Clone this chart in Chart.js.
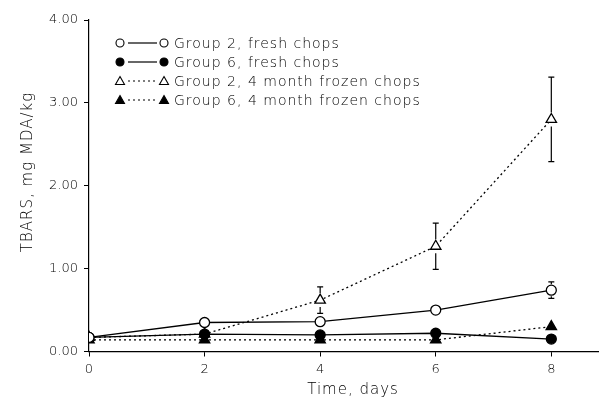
<!DOCTYPE html>
<html>
<head>
<meta charset="utf-8">
<script src="https://cdn.jsdelivr.net/npm/chart.js@4/dist/chart.umd.min.js"></script>
<style>
  html, body { margin: 0; padding: 0; background: #fff; }
  #wrap { width: 606px; height: 404px; position: relative; }
</style>
</head>
<body>
<div id="wrap"><canvas id="c" width="606" height="404"></canvas></div>
<script>
// Storage time (days) and TBARS means (mg MDA/kg)
const days = [0, 2, 4, 6, 8];
const yTicks = [0, 1, 2, 3, 4];
const g2Fresh = [0.17, 0.35, 0.36, 0.50, 0.74];
const g2FreshErr = [0, 0, 0, 0, 0.10];
const g6Fresh = [0.17, 0.21, 0.20, 0.22, 0.15];
const g2Frozen = [0.17, 0.21, 0.62, 1.27, 2.80];
const g2FrozenErr = [0, 0, 0.16, 0.28, 0.51];
const g6Frozen = [0.14, 0.14, 0.14, 0.14, 0.30];

const seriesNames = [
  'Group 2, fresh chops',
  'Group 6, fresh chops',
  'Group 2, 4 month frozen chops',
  'Group 6, 4 month frozen chops'
];
const xTitle = 'Time, days';
const yTitle = 'TBARS, mg MDA/kg';

const FONT = '"DejaVu Sans", sans-serif';
const WEIGHT = '200';
const pts = arr => arr.map((v, i) => ({ x: days[i], y: v }));

function series(label, values, opts) {
  return Object.assign({
    label,
    data: pts(values),
    borderColor: '#000',
    borderWidth: 1.3,
    pointBorderColor: '#000',
    pointBorderWidth: 1.3,
    tension: 0
  }, opts);
}

const datasets = [
  series(seriesNames[0], g2Fresh, { pointStyle: 'circle', pointRadius: 5, pointBackgroundColor: '#fff', errors: g2FreshErr }),
  series(seriesNames[1], g6Fresh, { pointStyle: 'circle', pointRadius: 5, pointBackgroundColor: '#000' }),
  series(seriesNames[2], g2Frozen, { pointStyle: 'triangle', pointRadius: 6, pointBackgroundColor: '#fff', borderDash: [2, 3], errors: g2FrozenErr }),
  series(seriesNames[3], g6Frozen, { pointStyle: 'triangle', pointRadius: 6, pointBackgroundColor: '#000', borderDash: [2, 3] })
];

// Vertical error bars with small caps, placed through the chart scales
const errorBars = {
  id: 'errorBars',
  afterDatasetsDraw(chart) {
    const { ctx, scales: { x, y } } = chart;
    ctx.save();
    ctx.strokeStyle = '#000';
    ctx.lineWidth = 1.2;
    chart.data.datasets.forEach(ds => {
      if (!ds.errors) return;
      ds.data.forEach((p, i) => {
        const e = ds.errors[i];
        if (!e) return;
        const px = x.getPixelForValue(p.x);
        const top = y.getPixelForValue(p.y + e);
        const bot = y.getPixelForValue(p.y - e);
        const mid = y.getPixelForValue(p.y);
        const r = ds.pointRadius + 1;
        ctx.beginPath();
        ctx.moveTo(px, top); ctx.lineTo(px, mid - r);
        ctx.moveTo(px, mid + r); ctx.lineTo(px, bot);
        ctx.moveTo(px - 3, top); ctx.lineTo(px + 3, top);
        ctx.moveTo(px - 3, bot); ctx.lineTo(px + 3, bot);
        ctx.stroke();
      });
    });
    ctx.restore();
  }
};

// Legend with symbol–line–symbol samples, plus the two axis titles
const annotations = {
  id: 'annotations',
  afterDraw(chart) {
    const { ctx } = chart;
    ctx.save();
    ctx.fillStyle = '#000';
    ctx.strokeStyle = '#000';
    ctx.letterSpacing = '1px';
    ctx.font = WEIGHT + ' 14px ' + FONT;
    ctx.textBaseline = 'middle';
    const rowY = [43, 62, 81, 100];
    datasets.forEach((ds, i) => {
      const yy = rowY[i];
      ctx.lineWidth = 1.2;
      ctx.setLineDash(ds.borderDash || []);
      ctx.beginPath();
      ctx.moveTo(128, yy); ctx.lineTo(157, yy);
      ctx.stroke();
      ctx.setLineDash([]);
      [120, 164].forEach(cx => {
        ctx.beginPath();
        if (ds.pointStyle === 'circle') {
          ctx.arc(cx, yy, 4, 0, Math.PI * 2);
        } else {
          ctx.moveTo(cx, yy - 4.5);
          ctx.lineTo(cx + 4.5, yy + 3.5);
          ctx.lineTo(cx - 4.5, yy + 3.5);
          ctx.closePath();
        }
        ctx.fillStyle = ds.pointBackgroundColor;
        ctx.fill();
        ctx.lineWidth = 1.1;
        ctx.stroke();
      });
      ctx.fillStyle = '#000';
      ctx.textAlign = 'left';
      ctx.fillText(ds.label, 174, yy + 1);
    });

    ctx.font = WEIGHT + ' 15px ' + FONT;
    ctx.textAlign = 'center';
    ctx.fillText(xTitle, 353, 390);

    ctx.font = WEIGHT + ' 15px ' + FONT;
    ctx.translate(28, 172);
    ctx.rotate(-Math.PI / 2);
    ctx.fillText(yTitle, 0, 0);
    ctx.restore();
  }
};

new Chart(document.getElementById('c'), {
  type: 'line',
  data: { datasets },
  plugins: [errorBars, annotations],
  options: {
    responsive: false,
    animation: false,
    layout: { padding: { top: 20, right: 0, left: 0, bottom: 0 } },
    plugins: { legend: { display: false }, tooltip: { enabled: false } },
    scales: {
      x: {
        type: 'linear',
        min: 0,
        max: 8.82,
        afterFit(s) { s.height = 52.5; },
        afterBuildTicks(s) { s.ticks = days.map(v => ({ value: v })); },
        border: { display: true, color: '#000', width: 1.2 },
        grid: { drawOnChartArea: false, color: '#000', tickLength: 5, lineWidth: 1 },
        ticks: { color: '#000', padding: 5, font: { family: FONT, size: 13, weight: WEIGHT }, callback: v => String(v) }
      },
      y: {
        min: 0,
        max: 4,
        afterFit(s) { s.width = 89; },
        afterBuildTicks(s) { s.ticks = yTicks.map(v => ({ value: v })); },
        border: { display: true, color: '#000', width: 1.2 },
        grid: { drawOnChartArea: false, color: '#000', tickLength: 5, lineWidth: 1 },
        ticks: { color: '#000', padding: 6, font: { family: FONT, size: 13, weight: WEIGHT }, callback: v => v.toFixed(2) }
      }
    }
  }
});
</script>
</body>
</html>
